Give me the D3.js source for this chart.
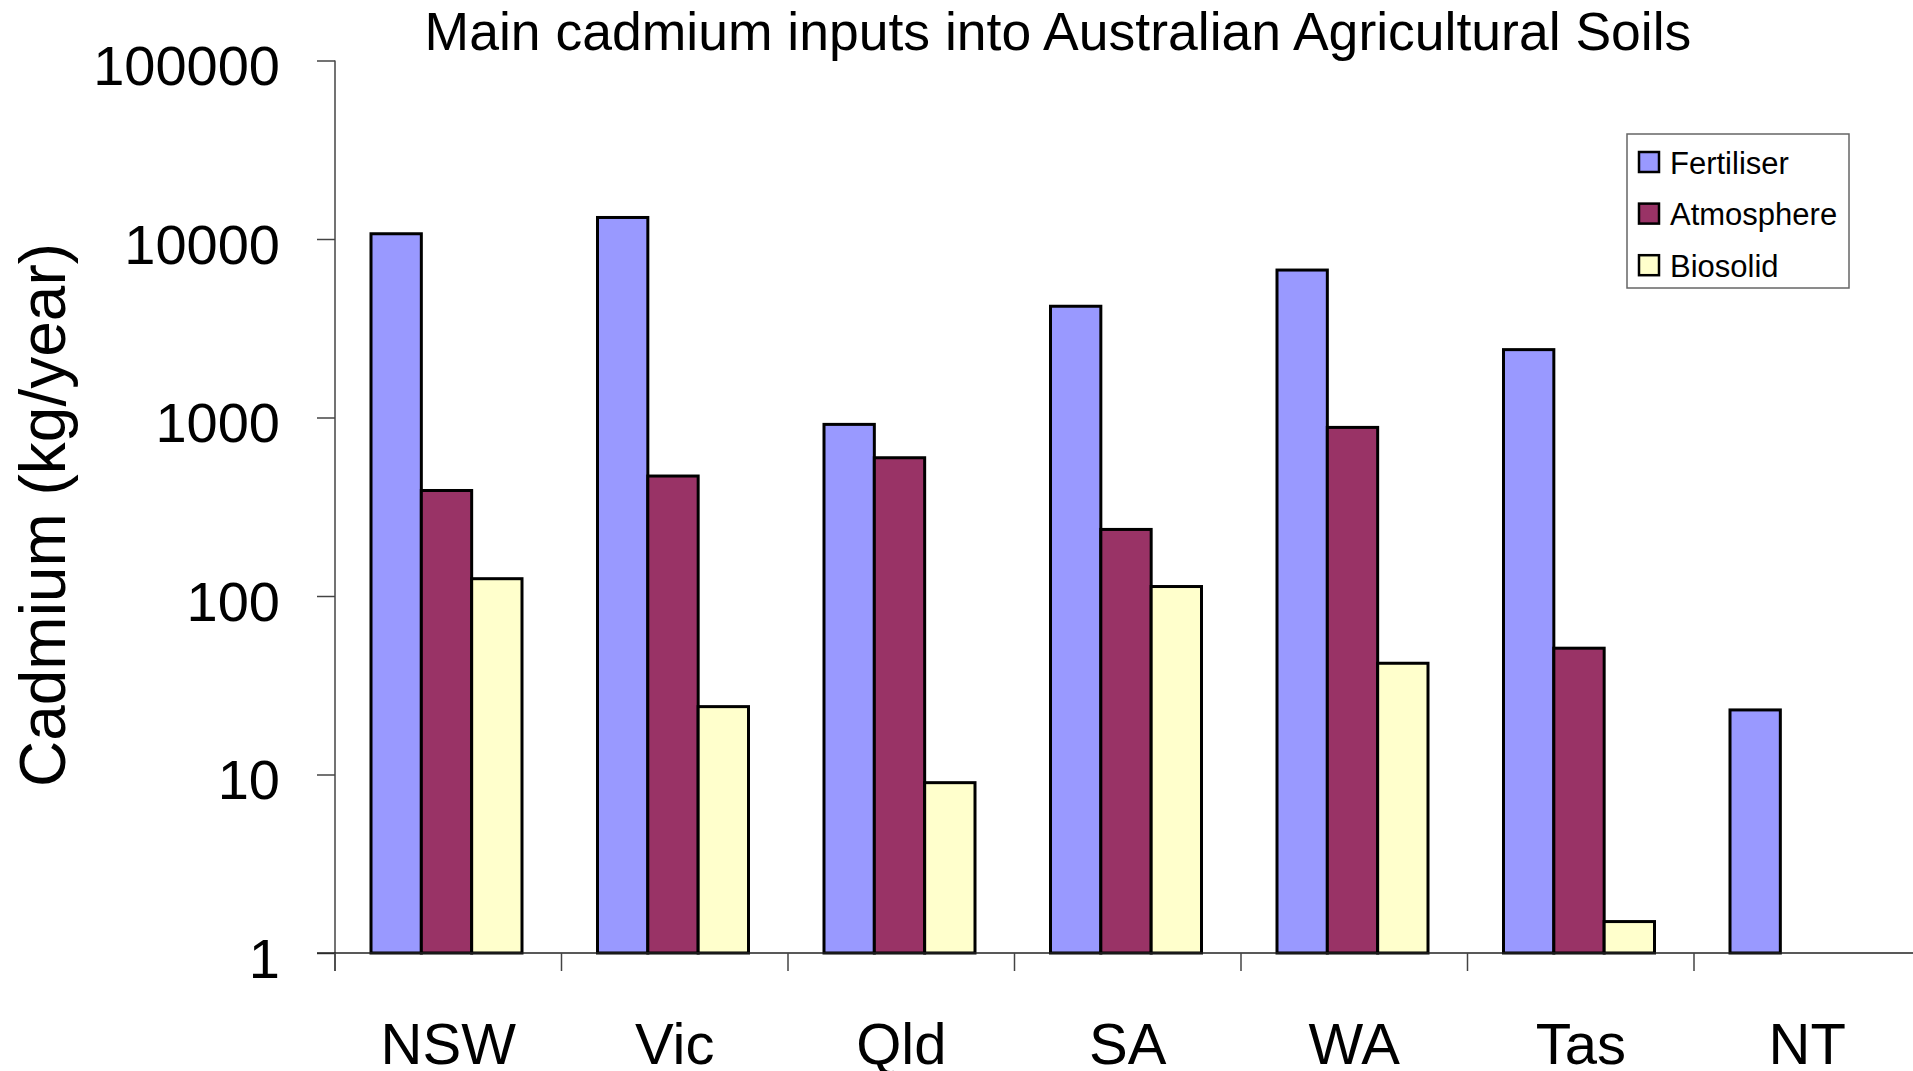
<!DOCTYPE html>
<html>
<head>
<meta charset="utf-8">
<script src="https://cdn.jsdelivr.net/npm/d3@7"></script>
<style>
  body { margin: 0; background: #fff; }
  svg { display: block; font-family: Arial, "Liberation Sans", sans-serif; }
</style>
</head>
<body>
<script>
// data (kg/year, log scale)
var states = ["NSW", "Vic", "Qld", "SA", "WA", "Tas", "NT"];
var series = ["Fertiliser", "Atmosphere", "Biosolid"];
var fertiliser = [10700, 13200, 915, 4200, 6700, 2400, 23];
var atmosphere = [390, 470, 595, 236, 880, 51, null];
var biosolid = [125, 24, 9, 113, 42, 1.5, null];
var yTicks = [1, 10, 100, 1000, 10000, 100000];

var colors = {Fertiliser: "#9999FF", Atmosphere: "#993366", Biosolid: "#FFFFCC"};

var width = 1913, height = 1071;
// plot edges (note: "top" is reserved on window, so use other names)
var plotLeft = 335, plotBottom = 953, plotTop = 60.5;
var step = 226.5;

var svg = d3.select("body").append("svg")
    .attr("width", width)
    .attr("height", height);

// scales
var x0 = d3.scaleBand()
    .domain(states)
    .range([plotLeft, plotLeft + step * states.length])
    .padding(0);

var x1 = d3.scaleBand()
    .domain(series)
    .range([36, 187]);

var y = d3.scaleLog()
    .domain([1, 100000])
    .range([plotBottom, plotTop]);

// rows for the bars
var rows = states.map(function(s, i) {
  return {state: s, values: [
    {key: "Fertiliser", value: fertiliser[i]},
    {key: "Atmosphere", value: atmosphere[i]},
    {key: "Biosolid", value: biosolid[i]}
  ]};
});

// bars
var groups = svg.append("g").selectAll("g")
    .data(rows)
    .join("g")
    .attr("transform", function(d) { return "translate(" + x0(d.state) + ",0)"; });

groups.selectAll("rect")
    .data(function(d) { return d.values.filter(function(v) { return v.value != null; }); })
    .join("rect")
    .attr("x", function(d) { return x1(d.key); })
    .attr("width", x1.bandwidth())
    .attr("y", function(d) { return y(d.value); })
    .attr("height", function(d) { return plotBottom - y(d.value); })
    .attr("fill", function(d) { return colors[d.key]; })
    .attr("stroke", "#000")
    .attr("stroke-width", 3);

// y axis
var yAxis = svg.append("g")
    .attr("transform", "translate(" + plotLeft + ",0)")
    .call(d3.axisLeft(y)
      .tickValues(yTicks)
      .tickFormat(d3.format("d"))
      .tickSize(18)
      .tickPadding(37));

yAxis.select(".domain").remove();
yAxis.selectAll(".tick line").attr("stroke", "#444").attr("stroke-width", 1.5);
yAxis.selectAll(".tick text")
    .attr("font-size", "56px")
    .attr("font-family", "Arial, 'Liberation Sans', sans-serif")
    .attr("fill", "#000")
    .attr("dy", "0.43em");

// vertical axis line (runs down to the category tick length)
svg.append("line")
    .attr("x1", plotLeft).attr("x2", plotLeft)
    .attr("y1", plotTop).attr("y2", plotBottom + 18)
    .attr("stroke", "#444")
    .attr("stroke-width", 1.5);

// x axis: labels centred in bands, ticks on band edges
var xAxis = svg.append("g")
    .attr("transform", "translate(0," + plotBottom + ")")
    .call(d3.axisBottom(x0).tickSize(0).tickPadding(70));

xAxis.select(".domain").remove();
xAxis.selectAll(".tick text")
    .attr("font-size", "58px")
    .attr("font-family", "Arial, 'Liberation Sans', sans-serif")
    .attr("fill", "#000");

svg.append("line")
    .attr("x1", plotLeft - 18).attr("x2", x0.range()[1])
    .attr("y1", plotBottom).attr("y2", plotBottom)
    .attr("stroke", "#222")
    .attr("stroke-width", 1.5);

svg.append("g").selectAll("line")
    .data(states)
    .join("line")
    .attr("x1", function(d) { return x0(d); })
    .attr("x2", function(d) { return x0(d); })
    .attr("y1", plotBottom)
    .attr("y2", plotBottom + 18)
    .attr("stroke", "#444")
    .attr("stroke-width", 1.5);

// title
svg.append("text")
    .attr("x", 1058)
    .attr("y", 50)
    .attr("text-anchor", "middle")
    .attr("font-size", "53.5px")
    .text("Main cadmium inputs into Australian Agricultural Soils");

// y axis title
svg.append("text")
    .attr("transform", "translate(65,515) rotate(-90)")
    .attr("text-anchor", "middle")
    .attr("font-size", "64px")
    .text("Cadmium (kg/year)");

// legend
var legend = svg.append("g").attr("transform", "translate(1627,134)");

legend.append("rect")
    .attr("width", 222)
    .attr("height", 154)
    .attr("fill", "#fff")
    .attr("stroke", "#666")
    .attr("stroke-width", 1.5);

var items = legend.selectAll("g")
    .data(series)
    .join("g")
    .attr("transform", function(d, i) { return "translate(12," + (18 + i * 51.6) + ")"; });

items.append("rect")
    .attr("width", 20)
    .attr("height", 20)
    .attr("fill", function(d) { return colors[d]; })
    .attr("stroke", "#000")
    .attr("stroke-width", 2.5);

items.append("text")
    .attr("x", 31)
    .attr("y", 21.5)
    .attr("font-size", "31px")
    .text(function(d) { return d; });
</script>
</body>
</html>
